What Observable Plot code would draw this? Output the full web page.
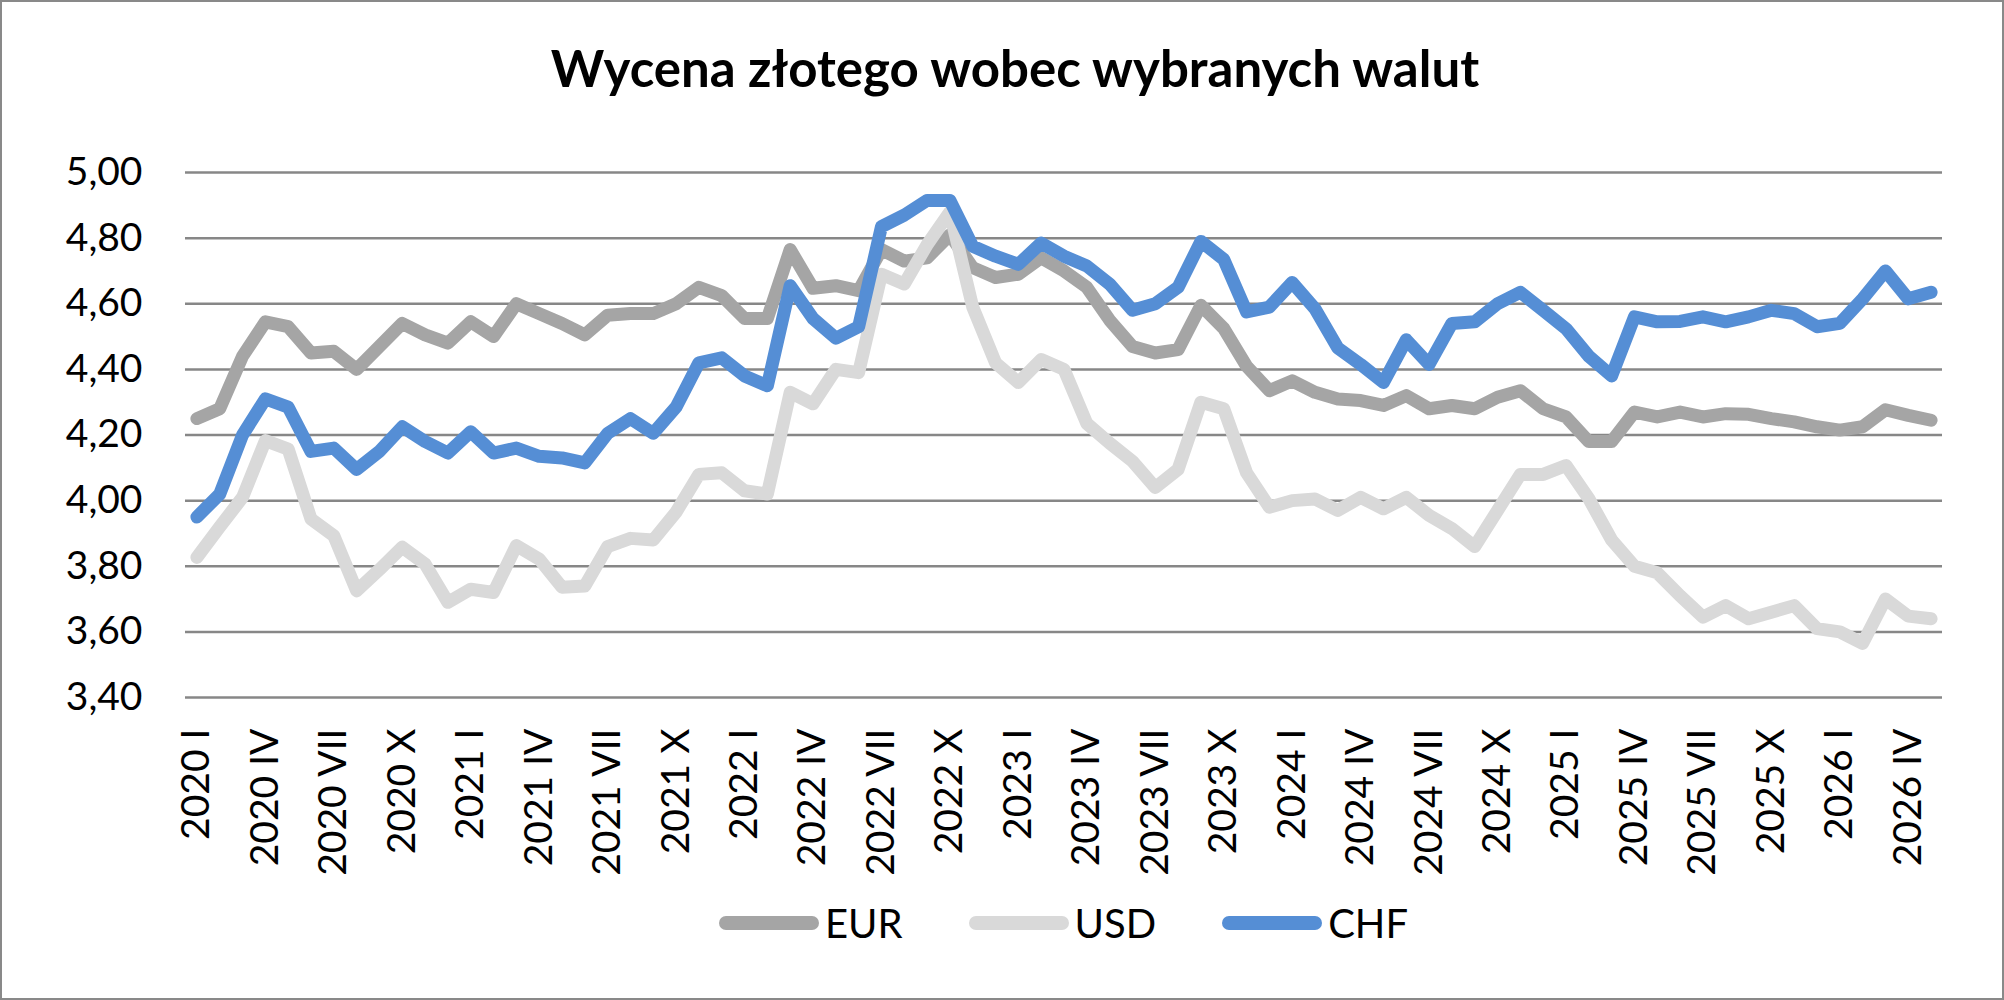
<!DOCTYPE html>
<html>
<head>
<meta charset="utf-8">
<script src="https://cdn.jsdelivr.net/npm/d3@7"></script>
<script src="https://cdn.jsdelivr.net/npm/@observablehq/plot@0.6"></script>
<style>
  html, body { margin: 0; padding: 0; background: #fff; }
  #chart { position: relative; width: 2004px; height: 1000px; background: #fff; font-family: Lato, sans-serif; color: #000; overflow: hidden; }
  #frame { position: absolute; left: 0; top: 0; width: 2004px; height: 1000px; box-sizing: border-box; border: 2px solid #898989; pointer-events: none; }
  #title { position: absolute; left: 13px; top: 42px; width: 2004px; text-align: center; font: bold 51px/51px Lato, sans-serif; }
  #plot { position: absolute; left: 0; top: 120px; }
  #legend { position: absolute; left: 185px; width: 1757px; top: 903px; height: 40px; display: flex; justify-content: center; align-items: center; gap: 66px; font: 40px/40px Lato, sans-serif; }
  .item { display: flex; align-items: center; }
  .sw { display: inline-block; width: 100px; height: 14px; border-radius: 7px; margin-right: 6px; }
</style>
</head>
<body>
<div id="chart">
  <div id="title">Wycena złotego wobec wybranych walut</div>
  <div id="plot"></div>
  <div id="legend"></div>
  <div id="frame"></div>
</div>
<script>
const romans = ["I","II","III","IV","V","VI","VII","VIII","IX","X","XI","XII"];
const years = [2020, 2021, 2022, 2023, 2024, 2025, 2026];
const monthCount = 77; // 2020 I ... 2026 V
const months = years.flatMap(y => romans.map(r => `${y} ${r}`)).slice(0, monthCount);
const tickLabels = months.filter((d, i) => i % 3 === 0);

const eur = [4.25,4.28,4.44,4.545,4.53,4.45,4.455,4.40,4.47,4.54,4.505,4.48,4.545,4.50,4.60,4.57,4.54,4.505,
  4.565,4.57,4.57,4.60,4.65,4.625,4.555,4.555,4.765,4.647,4.655,4.64,4.765,4.73,4.74,4.81,4.71,4.68,4.69,4.74,
  4.70,4.65,4.55,4.47,4.45,4.46,4.595,4.525,4.41,4.335,4.365,4.33,4.31,4.305,4.29,4.32,4.28,4.29,4.28,4.315,
  4.335,4.28,4.255,4.18,4.18,4.27,4.255,4.27,4.255,4.265,4.263,4.25,4.24,4.225,4.215,4.225,4.277,4.26,4.245];
const usd = [3.827,3.92,4.01,4.183,4.157,3.944,3.893,3.725,3.79,3.858,3.807,3.69,3.73,3.72,3.863,3.822,3.736,3.74,
  3.86,3.885,3.88,3.965,4.08,4.085,4.03,4.02,4.33,4.295,4.40,4.39,4.69,4.66,4.78,4.88,4.59,4.42,4.36,4.43,
  4.40,4.235,4.175,4.12,4.04,4.095,4.30,4.28,4.085,3.98,4.00,4.005,3.97,4.01,3.975,4.01,3.955,3.915,3.86,3.97,
  4.08,4.08,4.107,4.006,3.88,3.80,3.78,3.71,3.645,3.68,3.64,3.66,3.68,3.61,3.60,3.565,3.70,3.648,3.64];
const chf = [3.95,4.02,4.20,4.31,4.285,4.15,4.16,4.095,4.15,4.225,4.18,4.145,4.21,4.145,4.16,4.135,4.13,4.115,
  4.205,4.25,4.205,4.285,4.42,4.435,4.38,4.35,4.655,4.555,4.495,4.53,4.835,4.87,4.915,4.915,4.775,4.745,4.72,4.785,
  4.745,4.715,4.66,4.58,4.60,4.65,4.79,4.735,4.575,4.59,4.665,4.585,4.465,4.415,4.36,4.49,4.415,4.54,4.545,4.60,
  4.635,4.58,4.524,4.44,4.38,4.56,4.545,4.546,4.56,4.545,4.56,4.58,4.57,4.53,4.54,4.615,4.70,4.615,4.635];

const seriesNames = ["EUR", "USD", "CHF"];
const seriesColors = ["#A5A5A5", "#D9D9D9", "#558ED5"];
const yTicks = [3.4, 3.6, 3.8, 4.0, 4.2, 4.4, 4.6, 4.8, 5.0];

const seriesValues = [eur, usd, chf];
const data = seriesNames.flatMap((s, k) =>
  seriesValues[k].map((v, i) => ({month: months[i], value: v, series: s})));

const chart = Plot.plot({
  width: 2004,
  height: 778,
  marginTop: 52,
  marginBottom: 201,
  marginLeft: 185,
  marginRight: 62,
  style: {fontFamily: "Lato, sans-serif", fontSize: "39px", color: "#000", background: "transparent"},
  x: {type: "point", domain: months, padding: 0.5},
  y: {domain: [3.4, 5.0]},
  color: {domain: seriesNames, range: seriesColors},
  marks: [
    Plot.ruleY(yTicks, {stroke: "#878787", strokeWidth: 2.5}),
    Plot.axisY({ticks: yTicks, tickFormat: d => d.toFixed(2).replace(".", ","), tickSize: 0, tickPadding: 43, fontSize: 39, label: null}),
    Plot.axisX({ticks: tickLabels, tickRotate: -90, tickSize: 0, tickPadding: 31, fontSize: 39, label: null}),
    Plot.lineY(data, {x: "month", y: "value", z: "series", stroke: "series", strokeWidth: 13,
      strokeLinejoin: "round", strokeLinecap: "round"})
  ]
});
document.getElementById("plot").appendChild(chart);

const legend = document.getElementById("legend");
seriesNames.forEach((s, k) => {
  const item = document.createElement("div");
  item.className = "item";
  const sw = document.createElement("span");
  sw.className = "sw";
  sw.style.background = seriesColors[k];
  const tx = document.createElement("span");
  tx.textContent = s;
  item.appendChild(sw);
  item.appendChild(tx);
  legend.appendChild(item);
});
</script>
</body>
</html>
